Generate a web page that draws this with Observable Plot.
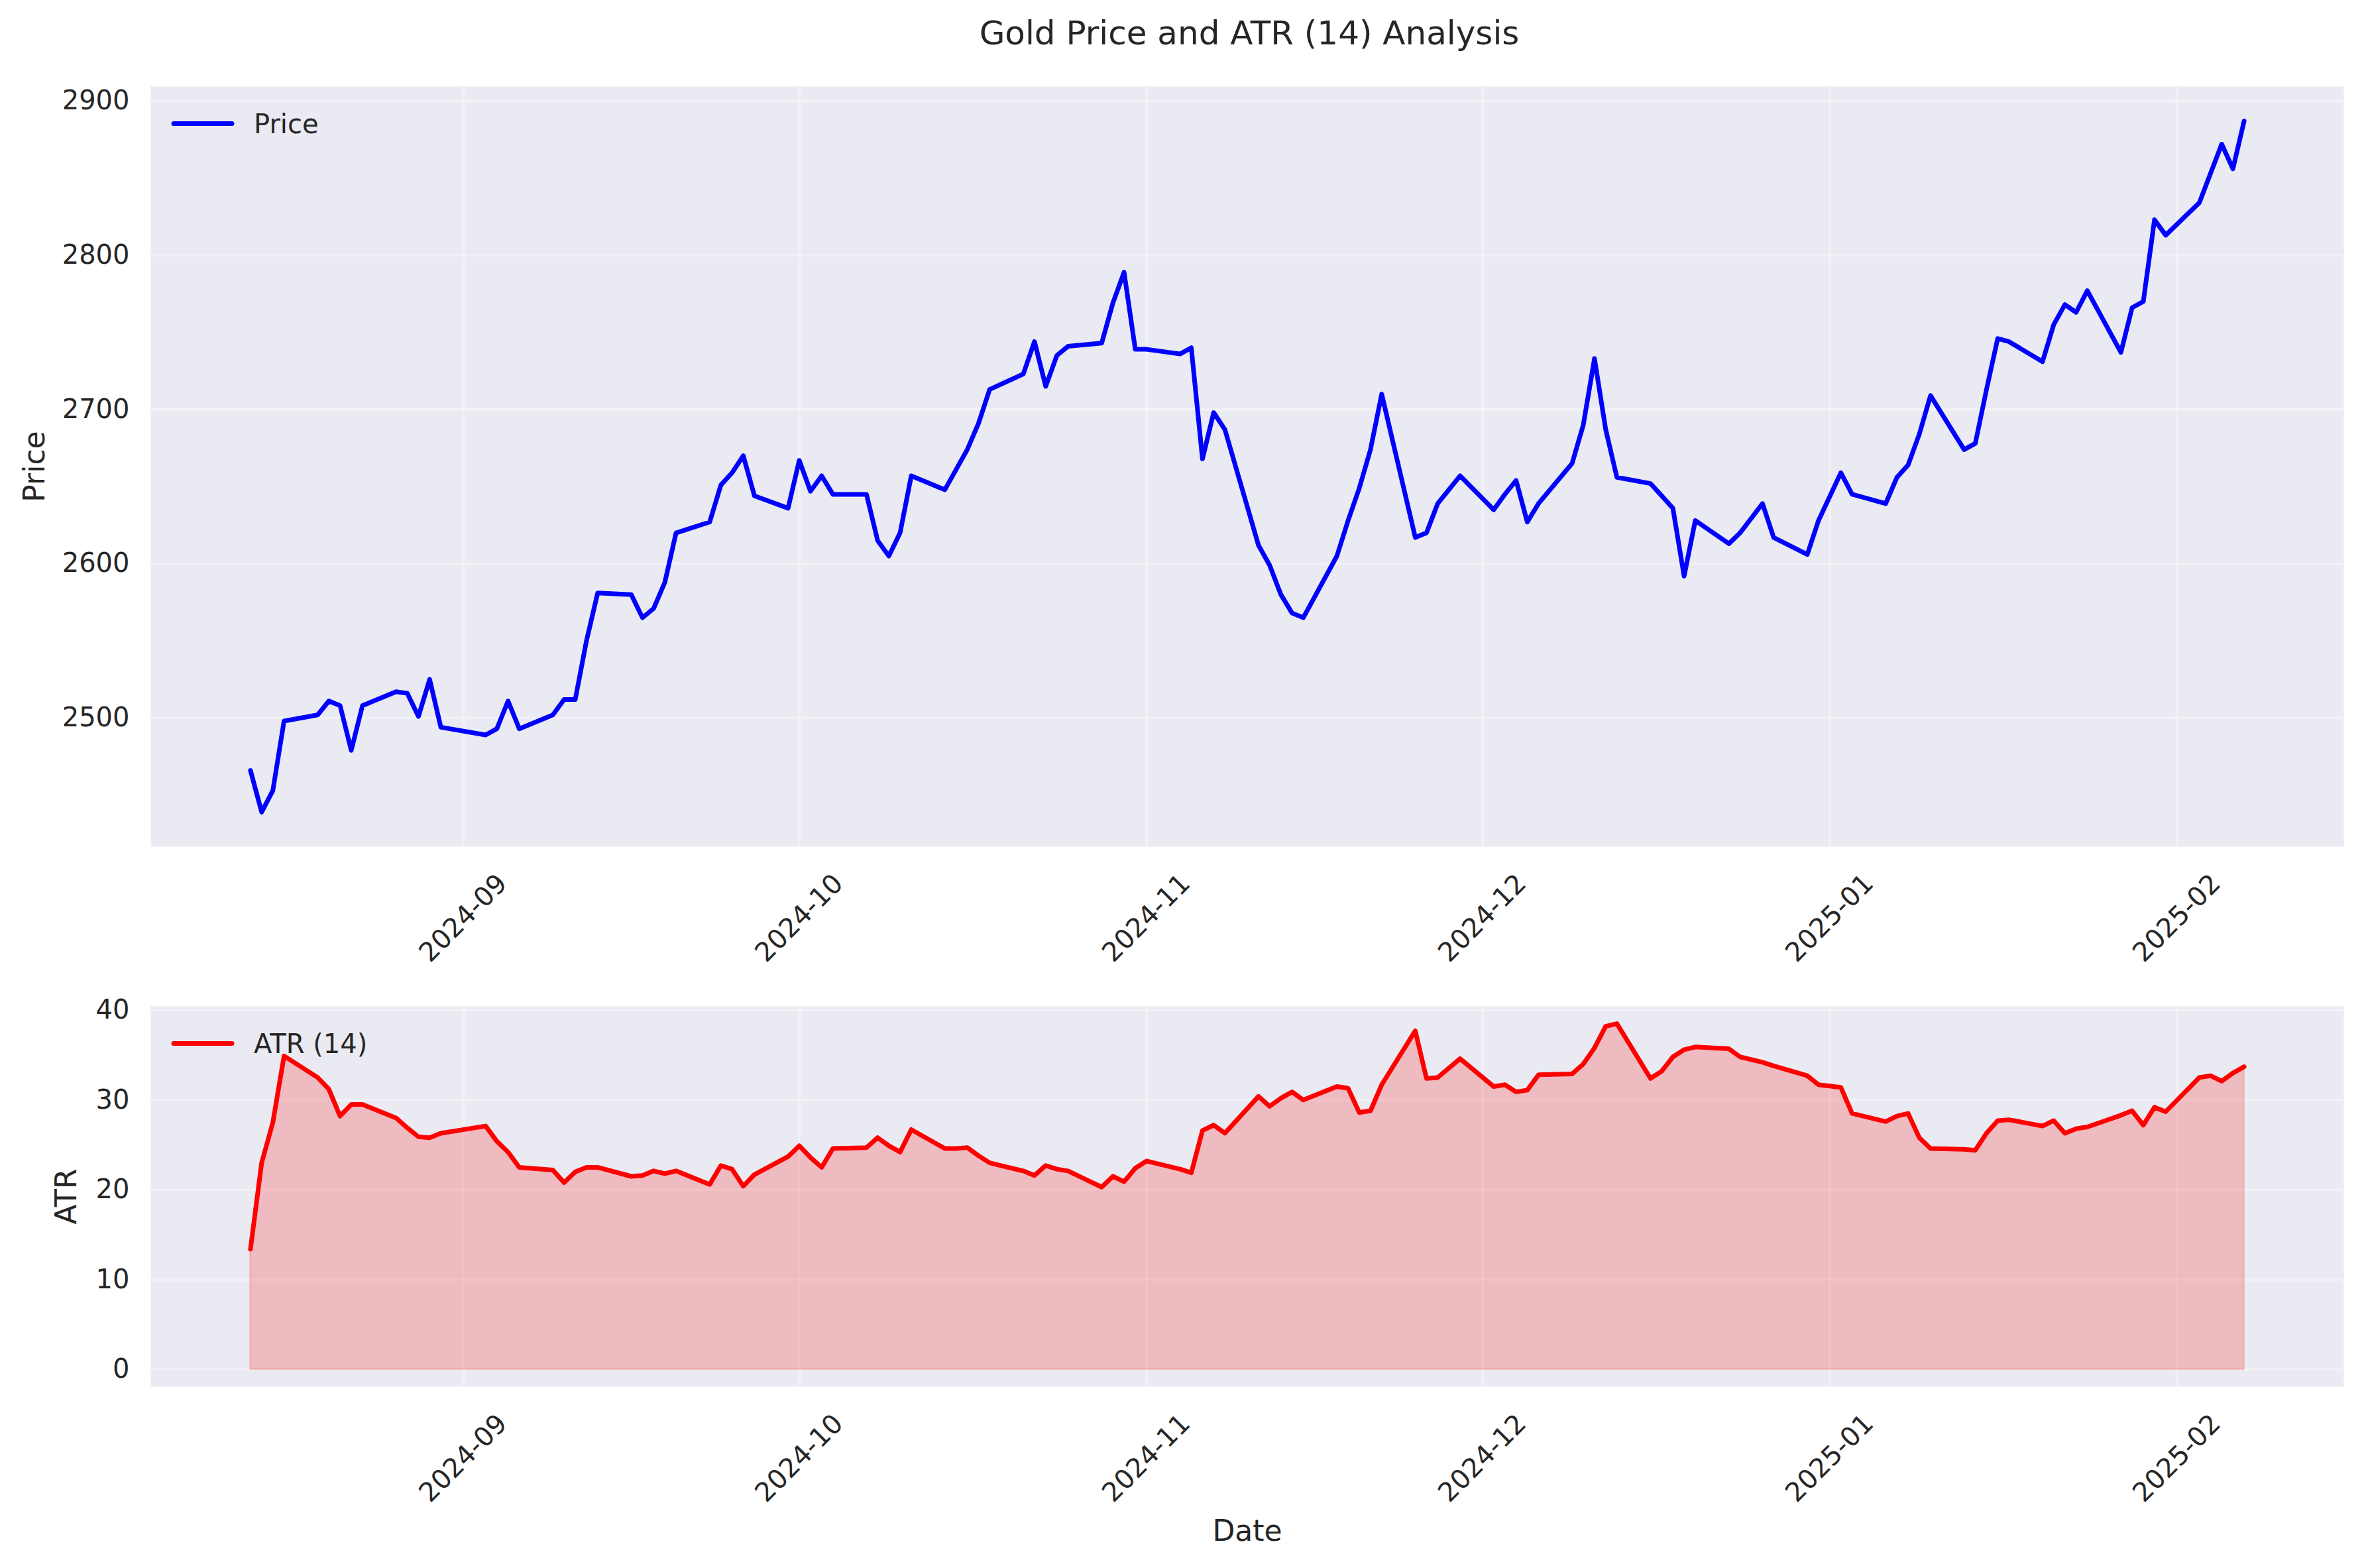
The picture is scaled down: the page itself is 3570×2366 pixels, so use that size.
<!DOCTYPE html>
<html>
<head>
<meta charset="utf-8">
<script src="https://cdn.jsdelivr.net/npm/d3@7"></script>
<script src="https://cdn.jsdelivr.net/npm/@observablehq/plot@0.6"></script>
<style>
  html, body { margin: 0; padding: 0; background: #ffffff; }
  #wrap { width: 3570px; height: 2366px; position: relative; font-family: "DejaVu Sans", sans-serif; }
  #title { height: 100px; line-height: 100px; font-size: 50px; color: #262626; text-align: center; padding-left: 200px; box-sizing: border-box; width: 3570px; }
  svg { display: block; }
</style>
</head>
<body>
<div id="wrap">
  <div id="title">Gold Price and ATR (14) Analysis</div>
  <div id="panelTop"></div>
  <div id="panelBottom"></div>
</div>
<script>
const dates = [
"2024-08-13","2024-08-14","2024-08-15","2024-08-16","2024-08-19","2024-08-20","2024-08-21","2024-08-22","2024-08-23","2024-08-26","2024-08-27","2024-08-28","2024-08-29","2024-08-30",
"2024-09-03","2024-09-04","2024-09-05","2024-09-06","2024-09-09","2024-09-10","2024-09-11","2024-09-12","2024-09-13","2024-09-16","2024-09-17","2024-09-18","2024-09-19","2024-09-20","2024-09-23","2024-09-24","2024-09-25","2024-09-26","2024-09-27","2024-09-30",
"2024-10-01","2024-10-02","2024-10-03","2024-10-04","2024-10-07","2024-10-08","2024-10-09","2024-10-10","2024-10-11","2024-10-14","2024-10-15","2024-10-16","2024-10-17","2024-10-18","2024-10-21","2024-10-22","2024-10-23","2024-10-24","2024-10-25","2024-10-28","2024-10-29","2024-10-30","2024-10-31",
"2024-11-01","2024-11-04","2024-11-05","2024-11-06","2024-11-07","2024-11-08","2024-11-11","2024-11-12","2024-11-13","2024-11-14","2024-11-15","2024-11-18","2024-11-19","2024-11-20","2024-11-21","2024-11-22","2024-11-25","2024-11-26","2024-11-27","2024-11-29",
"2024-12-02","2024-12-03","2024-12-04","2024-12-05","2024-12-06","2024-12-09","2024-12-10","2024-12-11","2024-12-12","2024-12-13","2024-12-16","2024-12-17","2024-12-18","2024-12-19","2024-12-20","2024-12-23","2024-12-24","2024-12-26","2024-12-27","2024-12-30","2024-12-31",
"2025-01-02","2025-01-03","2025-01-06","2025-01-07","2025-01-08","2025-01-09","2025-01-10","2025-01-13","2025-01-14","2025-01-15","2025-01-16","2025-01-17","2025-01-20","2025-01-21","2025-01-22","2025-01-23","2025-01-24","2025-01-27","2025-01-28","2025-01-29","2025-01-30","2025-01-31",
"2025-02-03","2025-02-04","2025-02-05","2025-02-06","2025-02-07"
];

const price = [
2466, 2439, 2453, 2498, 2502, 2511, 2508, 2479, 2508, 2517, 2516, 2501, 2525, 2494,
2489, 2493, 2511, 2493, 2502, 2512, 2512, 2550, 2581, 2580, 2565, 2571, 2588, 2620, 2627, 2651, 2659, 2670, 2644, 2636,
2667, 2647, 2657, 2645, 2645, 2615, 2605, 2620, 2657, 2648, 2661, 2674, 2691, 2713, 2723, 2744, 2715, 2735, 2741, 2743, 2769, 2789, 2739,
2739, 2736, 2740, 2668, 2698, 2687, 2612, 2599, 2580, 2568, 2565, 2605, 2628, 2649, 2674, 2710, 2617, 2620, 2639, 2657,
2635, 2645, 2654, 2627, 2639, 2665, 2690, 2733, 2687, 2656, 2652, 2644, 2636, 2592, 2628, 2613, 2620, 2639, 2617, 2606, 2628,
2659, 2645, 2639, 2656, 2664, 2684, 2709, 2674, 2678, 2713, 2746, 2744, 2731, 2755, 2768, 2763, 2777, 2737, 2766, 2770, 2823, 2813,
2834, 2853, 2872, 2856, 2887
];

const atr = [
13.4, 23.0, 27.5, 34.9, 32.5, 31.2, 28.2, 29.5, 29.5, 28.0, 26.9, 25.9, 25.8, 26.3,
27.1, 25.4, 24.2, 22.5, 22.2, 20.8, 22.0, 22.5, 22.5, 21.5, 21.6, 22.1, 21.8, 22.1, 20.6, 22.7, 22.3, 20.4, 21.7, 23.7,
24.9, 23.6, 22.5, 24.6, 24.7, 25.8, 24.9, 24.2, 26.7, 24.6, 24.6, 24.7, 23.8, 23.0, 22.1, 21.6, 22.7, 22.3, 22.1, 20.3, 21.5, 20.9, 22.4,
23.2, 22.3, 21.9, 26.6, 27.2, 26.3, 30.4, 29.3, 30.2, 30.9, 30.0, 31.5, 31.3, 28.6, 28.8, 31.7, 37.7, 32.4, 32.5, 34.6,
31.5, 31.7, 30.9, 31.1, 32.8, 32.9, 34.0, 35.8, 38.2, 38.5, 32.4, 33.2, 34.8, 35.6, 35.9, 35.7, 34.8, 34.2, 33.8, 32.7, 31.7,
31.4, 28.5, 27.6, 28.2, 28.5, 25.8, 24.6, 24.5, 24.4, 26.3, 27.7, 27.8, 27.1, 27.7, 26.3, 26.8, 27.0, 28.3, 28.8, 27.2, 29.2, 28.7,
32.5, 32.7, 32.1, 33.0, 33.7
];

const xTickDates = ["2024-09-01","2024-10-01","2024-11-01","2024-12-01","2025-01-01","2025-02-01"];
const priceTicks = [2500, 2600, 2700, 2800, 2900];
const atrTicks = [0, 10, 20, 30, 40];
const titles = {price: "Price", atr: "ATR", date: "Date", priceLegend: "Price", atrLegend: "ATR (14)"};

// ---- build table ----
const data = dates.map((d, i) => ({date: new Date(d + "T00:00:00Z"), price: price[i], atr: atr[i]}));
const xTicks = xTickDates.map(d => new Date(d + "T00:00:00Z"));

function pad(lo, hi) { const s = hi - lo; return [lo - s * 0.05, hi + s * 0.05]; }
const xExt = d3.extent(data, d => +d.date);
const xDomain = pad(xExt[0], xExt[1]).map(v => new Date(v));
const pExt = d3.extent(price);
const priceDomain = pad(pExt[0], pExt[1]);
const atrDomain = pad(0, d3.max(atr));

const fmt = d3.utcFormat("%Y-%m");
const numFmt = d => String(d);
const INK = "#262626";
const BG = "#EAEAF2";
const LW = 7;

function legendMark(label, color) {
  return (index, scales, values, dimensions) => {
    const g = d3.create("svg:g");
    const x0 = dimensions.marginLeft, y0 = dimensions.marginTop;
    g.append("line")
      .attr("x1", x0 + 35).attr("x2", x0 + 123)
      .attr("y1", y0 + 56.5).attr("y2", y0 + 56.5)
      .attr("stroke", color).attr("stroke-width", LW).attr("stroke-linecap", "round");
    g.append("text")
      .attr("x", x0 + 156).attr("y", y0 + 56.5).attr("dy", "0.36em")
      .attr("text-anchor", "start")
      .attr("font-size", 40).attr("fill", INK)
      .attr("font-family", "DejaVu Sans")
      .text(label);
    return g.node();
  };
}

function xAxis() {
  return Plot.axisX(xTicks, {
    tickSize: 0, tickPadding: 108, tickRotate: -45,
    tickFormat: fmt, textAnchor: "middle", lineAnchor: "middle",
    fontSize: 40, fill: INK, label: null
  });
}

const common = {
  width: 3570,
  marginLeft: 227, marginRight: 34,
  style: {fontFamily: "DejaVu Sans", fontSize: "40px", color: INK, background: "#ffffff", overflow: "visible"}
};

const chartTop = Plot.plot({
  ...common,
  height: 1370, marginTop: 30, marginBottom: 193,
  x: {type: "utc", domain: xDomain},
  y: {domain: priceDomain},
  marks: [
    Plot.frame({fill: BG, stroke: null}),
    Plot.gridX(xTicks, {stroke: "white", strokeOpacity: 0.35, strokeWidth: 4}),
    Plot.gridY(priceTicks, {stroke: "white", strokeOpacity: 0.35, strokeWidth: 4}),
    xAxis(),
    Plot.axisY(priceTicks, {tickSize: 0, tickPadding: 32, tickFormat: numFmt, fontSize: 40, fill: INK, label: null}),
    Plot.line(data, {x: "date", y: "price", stroke: "#0000FF", strokeWidth: LW, strokeLinejoin: "round", strokeLinecap: "round"}),
    Plot.text([titles.price], {frameAnchor: "left", rotate: -90, dx: -175, fontSize: 44, fill: INK, textAnchor: "middle", lineAnchor: "middle"}),
    legendMark(titles.priceLegend, "#0000FF")
  ]
});

const chartBottom = Plot.plot({
  ...common,
  height: 896, marginTop: 48, marginBottom: 274,
  x: {type: "utc", domain: xDomain},
  y: {domain: atrDomain},
  marks: [
    Plot.frame({fill: BG, stroke: null}),
    Plot.gridX(xTicks, {stroke: "white", strokeOpacity: 0.35, strokeWidth: 4}),
    Plot.gridY(atrTicks, {stroke: "white", strokeOpacity: 0.35, strokeWidth: 4}),
    xAxis(),
    Plot.axisY(atrTicks, {tickSize: 0, tickPadding: 32, tickFormat: numFmt, fontSize: 40, fill: INK, label: null}),
    Plot.areaY(data, {x: "date", y: "atr", fill: "#FF0000", fillOpacity: 0.2, stroke: "#FF0000", strokeOpacity: 0.15, strokeWidth: 3}),
    Plot.line(data, {x: "date", y: "atr", stroke: "#FF0000", strokeWidth: LW, strokeLinejoin: "round", strokeLinecap: "round"}),
    Plot.text([titles.atr], {frameAnchor: "left", rotate: -90, dx: -127, fontSize: 44, fill: INK, textAnchor: "middle", lineAnchor: "middle"}),
    Plot.text([titles.date], {frameAnchor: "bottom", dy: 218, fontSize: 44, fill: INK, textAnchor: "middle", lineAnchor: "middle"}),
    legendMark(titles.atrLegend, "#FF0000")
  ]
});

document.getElementById("panelTop").appendChild(chartTop);
document.getElementById("panelBottom").appendChild(chartBottom);
</script>
</body>
</html>
